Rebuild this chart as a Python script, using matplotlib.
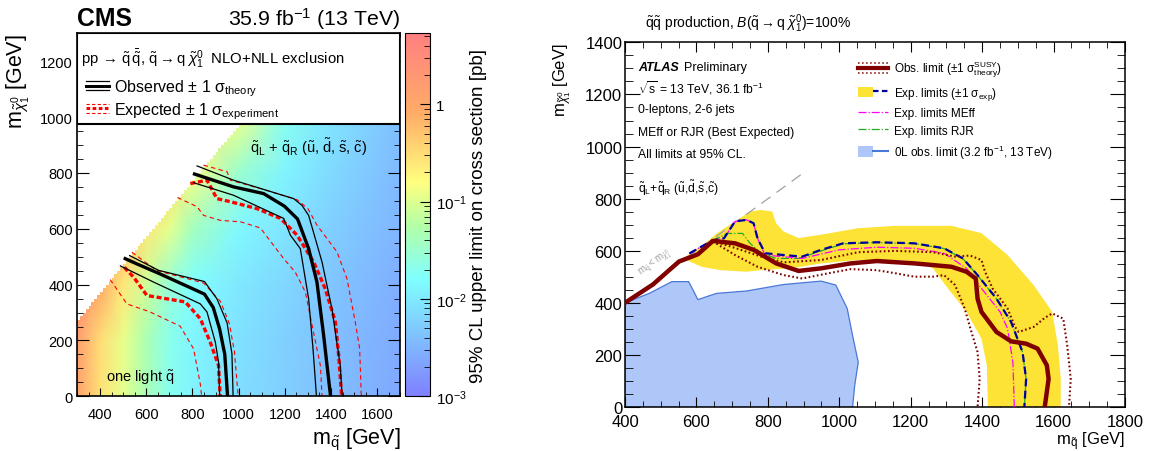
import numpy as np
import matplotlib
matplotlib.use("Agg")
import matplotlib.pyplot as plt
from matplotlib.colors import LinearSegmentedColormap, LogNorm
from matplotlib.lines import Line2D
from matplotlib.patches import Patch
from matplotlib.legend_handler import HandlerBase, HandlerTuple
from matplotlib.ticker import MultipleLocator, LogLocator, NullFormatter

plt.rcParams["font.family"] = ["Liberation Sans", "DejaVu Sans"]
plt.rcParams["mathtext.fontset"] = "custom"
plt.rcParams["mathtext.rm"] = "Liberation Sans"
plt.rcParams["mathtext.it"] = "Liberation Sans:italic"
plt.rcParams["mathtext.bf"] = "Liberation Sans:bold"

# ---------------- CMS panel data ----------------
# upper limit map, log10(sigma [pb]) on a coarse (mq, mlsp) grid
xsec_mq = [300, 400, 500, 600, 700, 800, 1000, 1200, 1400, 1700]
xsec_mlsp = [0, 200, 400, 600, 800, 1000, 1300]
xsec_log10 = [
    [0.10, -0.55, -0.95, -1.35, -1.70, -1.90, -2.10, -2.25, -2.40, -2.62],
    [0.20, -0.50, -0.92, -1.33, -1.68, -1.88, -2.08, -2.23, -2.38, -2.60],
    [0.35, 0.00, -0.60, -1.10, -1.55, -1.80, -2.02, -2.18, -2.34, -2.56],
    [0.50, 0.30, 0.00, -0.60, -0.95, -1.40, -1.85, -2.05, -2.25, -2.50],
    [0.60, 0.50, 0.30, 0.00, -0.50, -0.85, -1.50, -1.90, -2.15, -2.45],
    [0.70, 0.60, 0.50, 0.30, 0.00, -0.50, -0.90, -1.70, -2.05, -2.40],
    [0.70, 0.70, 0.60, 0.50, 0.30, 0.00, -0.50, -1.20, -1.80, -2.30],
]
mask_dm = 25      # no points with mlsp > mq - 25
mask_bin = 12.5

# one light squark
light_obs_x = [509, 560, 655, 852, 890, 918, 940, 952]
light_obs_y = [493, 474, 440, 366, 318, 240, 150, 0]
light_obs_up_x = [528, 654, 852, 906, 950, 971, 976]
light_obs_up_y = [504, 451, 411, 349, 263, 152, 0]
light_obs_dn_x = [488, 632, 834, 863, 899, 913, 918]
light_obs_dn_y = [467, 409, 331, 302, 194, 122, 0]
light_exp_x = [505, 545, 603, 690, 769, 834, 877, 913, 920]
light_exp_y = [462, 427, 361, 349, 338, 278, 194, 110, 0]
light_exp_up_x = [538, 646, 848, 921, 960, 982, 998]
light_exp_up_y = [516, 450, 406, 340, 260, 158, 0]
light_exp_dn_x = [444, 516, 617, 747, 805, 834, 840]
light_exp_dn_y = [418, 331, 302, 251, 170, 44, 0]

# qL + qR (u, d, s, c)
deg_obs_x = [809, 978, 1108, 1198, 1255, 1303, 1339, 1368, 1398]
deg_obs_y = [796, 750, 726, 681, 635, 529, 409, 218, 0]
deg_obs_up_x = [820, 978, 1238, 1274, 1303, 1361, 1404, 1440, 1448]
deg_obs_up_y = [825, 774, 708, 684, 648, 481, 313, 110, 0]
deg_obs_dn_x = [805, 978, 1195, 1224, 1267, 1303, 1322, 1337]
deg_obs_dn_y = [765, 720, 637, 577, 529, 349, 170, 0]
deg_exp_x = [791, 863, 906, 964, 1080, 1181, 1253, 1325, 1375, 1419, 1433, 1446]
deg_exp_y = [762, 774, 708, 697, 672, 637, 577, 481, 385, 266, 146, 0]
deg_exp_up_x = [848, 950, 964, 1094, 1253, 1300, 1339, 1426, 1469, 1505, 1524, 1531]
deg_exp_up_y = [828, 804, 774, 744, 704, 672, 613, 517, 421, 266, 170, 0]
deg_exp_dn_x = [735, 820, 848, 921, 1008, 1094, 1195, 1245, 1289, 1318, 1354, 1361]
deg_exp_dn_y = [712, 679, 648, 630, 625, 603, 493, 445, 373, 254, 110, 0]

# ---------------- ATLAS panel data ----------------
atlas_obs_x = [400, 478, 551, 604, 646, 708, 760, 823, 886, 949, 1032, 1105, 1210,
               1314, 1356, 1382, 1387, 1398, 1440, 1481, 1523, 1555, 1581, 1586, 1575]
atlas_obs_y = [401, 471, 559, 587, 638, 629, 604, 552, 523, 533, 552, 561, 552,
               539, 520, 494, 417, 366, 289, 253, 244, 225, 161, 109, 0]
atlas_obs_up_x = [646, 720, 781, 844, 949, 1053, 1157, 1262, 1324, 1366, 1398, 1408,
                  1429, 1471, 1492, 1502, 1544, 1575, 1596, 1627, 1638, 1648, 1643]
atlas_obs_up_y = [638, 606, 578, 556, 565, 595, 600, 595, 578, 582, 565, 520,
                  456, 379, 308, 289, 308, 343, 360, 340, 238, 109, 0]
atlas_obs_dn_x = [646, 708, 771, 844, 896, 969, 1032, 1105, 1157, 1210, 1262, 1293,
                  1324, 1351, 1367, 1387, 1393, 1387]
atlas_obs_dn_y = [636, 584, 539, 507, 494, 514, 530, 526, 514, 501, 501, 507,
                  469, 379, 302, 212, 109, 0]
band_up_x = [562, 620, 660, 708, 750, 781, 812, 823, 844, 886, 949, 1053, 1157, 1314,
             1398, 1471, 1544, 1596, 1612, 1620, 1620]
band_up_y = [571, 625, 670, 713, 751, 757, 751, 706, 674, 649, 662, 687, 696, 696,
             668, 584, 469, 366, 238, 109, 0]
band_dn_x = [562, 614, 667, 740, 781, 865, 949, 1053, 1157, 1220, 1262, 1304, 1356,
             1398, 1413, 1416]
band_dn_y = [571, 539, 526, 520, 526, 533, 552, 565, 565, 559, 533, 456, 366,
             263, 161, 0]
atlas_exp_x = [580, 646, 677, 708, 740, 760, 771, 792, 844, 896, 949, 1011, 1105, 1210,
               1293, 1346, 1387, 1440, 1481, 1513, 1523, 1518]
atlas_exp_y = [590, 641, 648, 713, 719, 706, 648, 591, 584, 578, 604, 629, 633, 629,
               610, 571, 507, 417, 327, 212, 109, 0]
rjr_x = [580, 646, 687, 729, 750, 781, 823, 886, 949, 1011, 1105, 1210, 1293, 1346,
         1387, 1440, 1481, 1513, 1523, 1518]
rjr_y = [590, 641, 667, 667, 629, 591, 571, 571, 600, 627, 632, 628, 609, 570,
         506, 416, 326, 211, 108, 0]
meff_x = [580, 646, 677, 708, 740, 760, 771, 792, 896, 1000, 1105, 1210, 1293, 1356,
          1398, 1450, 1471, 1486, 1490]
meff_y = [590, 641, 648, 713, 719, 706, 648, 584, 571, 604, 614, 610, 591, 533,
          456, 366, 302, 173, 0]
zero_l_x = [400, 468, 531, 578, 588, 604, 656, 740, 844, 949, 990, 1022, 1037, 1053,
            1043, 1037, 400]
zero_l_y = [401, 437, 482, 482, 456, 413, 437, 446, 471, 484, 469, 379, 276, 173,
            83, 0, 0]
diag_x = [400, 900]
diag_y = [400, 900]


class StackedLines(HandlerBase):
    # legend key made of several parallel lines (ROOT style band key)
    def __init__(self, specs):
        super().__init__()
        self.specs = specs

    def create_artists(self, legend, orig_handle, xdescent, ydescent, width,
                       height, fontsize, trans):
        arts = []
        for frac, lw, ls in self.specs:
            y = -ydescent + frac * height
            arts.append(Line2D([-xdescent, width - xdescent], [y, y],
                               color=orig_handle.get_color(), lw=lw, ls=ls,
                               transform=trans))
        return arts


fig = plt.figure(figsize=(11.59, 4.52), dpi=100)
ax1 = fig.add_axes([0.0664, 0.1210, 0.2790, 0.8031])
cax = fig.add_axes([0.3494, 0.1210, 0.0216, 0.8031])
ax2 = fig.add_axes([0.5393, 0.0967, 0.4314, 0.8075])

# ---------------- CMS ----------------
stops = [-3.0, -1.8, -1.25, -0.8, -0.1, 0.73]
stop_colors = ["#8080ff", "#80ffff", "#b3ffa6", "#ffff80", "#ffad66", "#ff8080"]
cmap = LinearSegmentedColormap.from_list(
    "cms", [((s - stops[0]) / (stops[-1] - stops[0]), c) for s, c in zip(stops, stop_colors)])
norm = LogNorm(vmin=10 ** stops[0], vmax=10 ** stops[-1])

mesh = ax1.pcolormesh(xsec_mq, xsec_mlsp, 10 ** np.array(xsec_log10),
                      shading="gouraud", cmap=cmap, norm=norm, zorder=0)
edges = np.arange(300, 1700 + mask_bin, mask_bin)
ax1.fill_between(edges, edges - mask_dm, 1300, step="post", color="white",
                 lw=0, zorder=1)

thick_dash = (0, (1.5, 0.8))
thin_dash = (0, (4, 3))
for ox, oy, ux, uy, dx, dy in [
        (light_obs_x, light_obs_y, light_obs_up_x, light_obs_up_y, light_obs_dn_x, light_obs_dn_y),
        (deg_obs_x, deg_obs_y, deg_obs_up_x, deg_obs_up_y, deg_obs_dn_x, deg_obs_dn_y)]:
    ax1.plot(ox, oy, color="black", lw=2.4, zorder=4)
    ax1.plot(ux, uy, color="black", lw=0.9, zorder=4)
    ax1.plot(dx, dy, color="black", lw=0.9, zorder=4)
for ex, ey, ux, uy, dx, dy in [
        (light_exp_x, light_exp_y, light_exp_up_x, light_exp_up_y, light_exp_dn_x, light_exp_dn_y),
        (deg_exp_x, deg_exp_y, deg_exp_up_x, deg_exp_up_y, deg_exp_dn_x, deg_exp_dn_y)]:
    ax1.plot(ex, ey, color="red", lw=2.4, ls=thick_dash, zorder=3)
    ax1.plot(ux, uy, color="red", lw=0.8, ls=thin_dash, zorder=3)
    ax1.plot(dx, dy, color="red", lw=0.8, ls=thin_dash, zorder=3)

ax1.set_xlim(300, 1700)
ax1.set_ylim(0, 1300)
ax1.axhspan(975, 1300, facecolor="white", edgecolor="black", lw=1.5, zorder=5)
ax1.text(319, 1214, r"pp$\,\rightarrow\,\tilde{\mathrm{q}}\,\bar{\tilde{\mathrm{q}}}$, "
         r"$\tilde{\mathrm{q}}\rightarrow\mathrm{q}\;\tilde{\chi}^{0}_{1}$  NLO+NLL exclusion",
         fontsize=10.7, va="center", zorder=6)
h_obs = Line2D([], [], color="black")
h_exp = Line2D([], [], color="red")
leg1 = ax1.legend([h_obs, h_exp],
                  [r"Observed $\pm$ 1 σ$_{\mathrm{theory}}$",
                   r"Expected $\pm$ 1 σ$_{\mathrm{experiment}}$"],
                  handler_map={h_obs: StackedLines([(1.0, 0.9, "-"), (0.5, 2.2, "-"), (0.0, 0.9, "-")]),
                               h_exp: StackedLines([(1.0, 0.8, (0, (3, 2))), (0.5, 2.2, (0, (1.2, 0.8))),
                                                    (0.0, 0.8, (0, (3, 2)))])},
                  loc="upper left", bbox_to_anchor=(0.028, 0.878), frameon=False,
                  fontsize=11.5, handlelength=1.45, handleheight=0.5,
                  handletextpad=0.3, labelspacing=0.12, borderpad=0, borderaxespad=0)
leg1.set_zorder(6)

ax1.text(1050, 895, r"$\tilde{\mathrm{q}}_{\mathrm{L}}$ + $\tilde{\mathrm{q}}_{\mathrm{R}}$ "
         r"($\tilde{\mathrm{u}}$, $\tilde{\mathrm{d}}$, $\tilde{\mathrm{s}}$, $\tilde{\mathrm{c}}$)",
         fontsize=10.5, va="center", zorder=4)
ax1.text(427, 69, r"one light $\tilde{\mathrm{q}}$", fontsize=10.5, va="center", zorder=4)

ax1.xaxis.set_major_locator(MultipleLocator(200))
ax1.xaxis.set_minor_locator(MultipleLocator(50))
ax1.yaxis.set_major_locator(MultipleLocator(200))
ax1.yaxis.set_minor_locator(MultipleLocator(50))
ax1.set_xticks([400, 600, 800, 1000, 1200, 1400, 1600])
ax1.tick_params(which="both", direction="in", top=True, right=True, labelsize=10.5)
ax1.tick_params(axis="x", which="major", length=6, pad=8)
ax1.tick_params(axis="x", which="minor", length=3)
ax1.tick_params(axis="y", which="major", length=8.5, pad=3)
ax1.tick_params(axis="y", which="minor", length=4.3)
for s in ax1.spines.values():
    s.set_linewidth(1.2)
    s.set_zorder(7)
ax1.set_xlabel(r"$\mathrm{m}_{\tilde{\mathrm{q}}}$ [GeV]", fontsize=15.5, loc="right")
ax1.xaxis.set_label_coords(1.0, -0.118)
ax1.xaxis.label.set_va("center")
ax1.set_ylabel(r"$\mathrm{m}_{\tilde{\chi}^{0}_{1}}$ [GeV]", fontsize=15.5, loc="top")
ax1.yaxis.set_label_coords(-0.14, 1.0)

fig.text(0.0664, 0.958, "CMS", fontsize=17.8, fontweight="bold", va="center")
fig.text(0.3451, 0.958, r"35.9 fb$^{-1}$ (13 TeV)", fontsize=15.3, va="center", ha="right")

cb = fig.colorbar(mesh, cax=cax)
cb.outline.set_linewidth(0.8)
cb.set_ticks([1e-3, 1e-2, 1e-1, 1])
cb.set_ticklabels([r"$10^{-3}$", r"$10^{-2}$", r"$10^{-1}$", "1"])
cax.yaxis.set_minor_locator(LogLocator(base=10, subs=range(2, 10)))
cax.yaxis.set_minor_formatter(NullFormatter())
cax.tick_params(which="both", direction="in", right=True, labelsize=11, pad=4)
cax.tick_params(which="major", length=7)
cax.tick_params(which="minor", length=4.5)
cax.set_ylabel("95% CL upper limit on cross section [pb]", fontsize=13.5)
cax.yaxis.set_label_coords(2.6, 0.5)

# ---------------- ATLAS ----------------
ax2.fill(zero_l_x, zero_l_y, facecolor="#aec6f8", edgecolor="#4a78d8", lw=0.9, zorder=1)
ax2.fill(band_up_x + band_dn_x[::-1], band_up_y + band_dn_y[::-1],
         facecolor="#fde335", edgecolor="none", zorder=2)
ax2.plot(diag_x, diag_y, color="#a0a0a0", lw=0.9, ls=(0, (9, 6)), zorder=2)
ax2.plot(rjr_x, rjr_y, color="#22aa22", lw=0.9, ls="-.", zorder=3)
ax2.plot(meff_x, meff_y, color="#ff00ff", lw=0.9, ls="-.", zorder=3)
ax2.plot(atlas_exp_x, atlas_exp_y, color="#0000a0", lw=1.6, ls=(0, (3.5, 2)), zorder=4)
ax2.plot(atlas_obs_up_x, atlas_obs_up_y, color="#800000", lw=1.5, ls=(0, (0.8, 1.2)), zorder=4)
ax2.plot(atlas_obs_dn_x, atlas_obs_dn_y, color="#800000", lw=1.5, ls=(0, (0.8, 1.2)), zorder=4)
ax2.plot(atlas_obs_x, atlas_obs_y, color="#800000", lw=3.2, zorder=5)

ax2.set_xlim(400, 1800)
ax2.set_ylim(0, 1400)
ax2.xaxis.set_major_locator(MultipleLocator(200))
ax2.xaxis.set_minor_locator(MultipleLocator(50))
ax2.yaxis.set_major_locator(MultipleLocator(200))
ax2.yaxis.set_minor_locator(MultipleLocator(50))
ax2.tick_params(which="both", direction="in", top=True, right=True, labelsize=12)
ax2.tick_params(axis="x", which="major", length=7.5, pad=5)
ax2.tick_params(axis="x", which="minor", length=4)
ax2.tick_params(axis="y", which="major", length=11, pad=2)
ax2.tick_params(axis="y", which="minor", length=5.5)
for s in ax2.spines.values():
    s.set_linewidth(1.1)
ax2.set_xlabel(r"$\mathrm{m}_{\tilde{\mathrm{q}}}$ [GeV]", fontsize=12, loc="right")
ax2.xaxis.set_label_coords(1.0, -0.092)
ax2.xaxis.label.set_va("center")
ax2.set_ylabel(r"$\mathrm{m}_{\tilde{\chi}^{0}_{1}}$ [GeV]", fontsize=12, loc="top")
ax2.yaxis.set_label_coords(-0.104, 1.0)

ax2.text(0.04, 1.055, r"$\tilde{\mathrm{q}}\tilde{\mathrm{q}}$ production, "
         r"$B(\tilde{\mathrm{q}}\rightarrow\mathrm{q}\;\tilde{\chi}^{0}_{1})$=100%",
         transform=ax2.transAxes, fontsize=10, va="center")
ax2.text(437, 1304, "ATLAS", fontsize=9, fontweight="bold", fontstyle="italic", va="center")
ax2.text(565, 1304, "Preliminary", fontsize=9, va="center")
ax2.text(437, 1227, r"$\sqrt{\mathrm{s}}$ = 13 TeV, 36.1 fb$^{-1}$", fontsize=8.7, va="center")
ax2.text(437, 1143, "0-leptons, 2-6 jets", fontsize=8.7, va="center")
ax2.text(437, 1055, "MEff or RJR (Best Expected)", fontsize=8.7, va="center")
ax2.text(437, 970, "All limits at 95% CL.", fontsize=8.7, va="center")
ax2.text(437, 844, r"$\tilde{\mathrm{q}}_{\mathrm{L}}$+$\tilde{\mathrm{q}}_{\mathrm{R}}$ "
         r"($\tilde{\mathrm{u}}$,$\tilde{\mathrm{d}}$,$\tilde{\mathrm{s}}$,$\tilde{\mathrm{c}}$)",
         fontsize=8.7, va="center")
ax2.text(484, 559, r"$\mathrm{m}_{\tilde{\mathrm{q}}} < \mathrm{m}_{\tilde{\chi}^{0}_{1}}$",
         fontsize=7, color="#a0a0a0", rotation=36, ha="center", va="center")

h_aobs = Line2D([], [], color="#800000")
h_band = (Patch(facecolor="#fde335", edgecolor="none"),
          Line2D([], [], color="#0000a0", lw=1.6, ls=(0, (2.5, 1.5))))
h_meff = Line2D([], [], color="#ff00ff", lw=0.9, ls="-.")
h_rjr = Line2D([], [], color="#22aa22", lw=0.9, ls="-.")
h_zero = (Patch(facecolor="#aec6f8", edgecolor="none"),
          Line2D([], [], color="#4a78d8", lw=1.5))
leg2 = ax2.legend([h_aobs, h_band, h_meff, h_rjr, h_zero],
                  [r"Obs. limit ($\pm$1 σ$^{\mathrm{SUSY}}_{\mathrm{theory}}$)",
                   r"Exp. limits ($\pm$1 σ$_{\mathrm{exp}}$)",
                   "Exp. limits MEff", "Exp. limits RJR",
                   r"0L obs. limit (3.2 fb$^{-1}$, 13 TeV)"],
                  handler_map={h_aobs: StackedLines([(1.0, 1.1, ":"), (0.5, 3.0, "-"), (0.0, 1.1, ":")]),
                               tuple: HandlerTuple(ndivide=None)},
                  loc="upper left", bbox_to_anchor=(0.465, 0.955), frameon=False,
                  fontsize=8.5, handlelength=2.6, handleheight=0.95, handletextpad=0.45,
                  labelspacing=0.46, borderpad=0, borderaxespad=0)

fig.savefig("out.png", dpi=100)
